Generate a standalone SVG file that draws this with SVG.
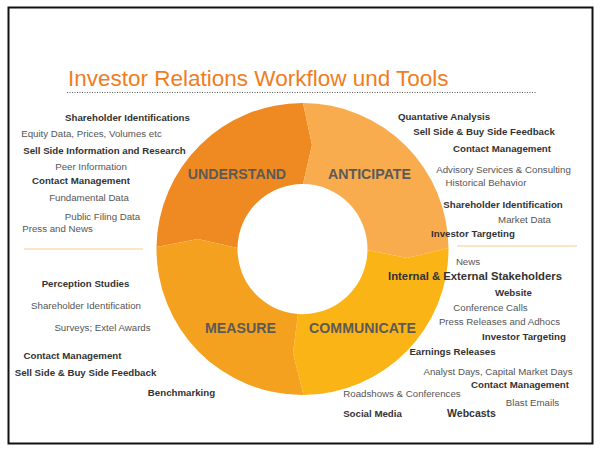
<svg xmlns="http://www.w3.org/2000/svg" width="600" height="452" viewBox="0 0 600 452">
<style>
.b{font-family:"Liberation Sans",Arial,sans-serif;font-size:9.7px;font-weight:bold;fill:#333;text-anchor:middle}
.r{font-family:"Liberation Sans",Arial,sans-serif;font-size:9.7px;fill:#555;text-anchor:middle}
.seg{font-family:"Liberation Sans",Arial,sans-serif;font-size:14.2px;font-weight:bold;fill:#5c5a57;text-anchor:middle}
.sep{stroke:#FADBB5;stroke-width:1.5}
</style>
<rect x="0" y="0" width="600" height="452" fill="#fff"/>
<rect x="8.5" y="7.5" width="584" height="436" fill="#fff" stroke="#111" stroke-width="2"/>
<text x="68" y="86" font-family="'Liberation Sans',Arial,sans-serif" font-size="22.5" fill="#F07D1E">Investor Relations Workflow und Tools</text>
<line x1="67" y1="92.5" x2="537" y2="92.5" stroke="#555" stroke-width="1" stroke-dasharray="1,1.5"/>
<line class="sep" x1="24" y1="249" x2="143" y2="249"/>
<line class="sep" x1="457" y1="246" x2="577" y2="246"/>

<g id="understand">
<path d="M156.5,247 A146,146 0 0 1 303,103 L312,145 L303,184 A65,65 0 0 0 237.5,248 L198,239 Z" fill="#EF8A22"/>
<text class="seg" x="237" y="179">UNDERSTAND</text>
</g>
<g id="anticipate">
<path d="M303,103 A146,146 0 0 1 448.5,248 L407,258 L367.5,250 A65,65 0 0 0 303,184 L312,145 Z" fill="#F8AC4E"/>
<text class="seg" x="369.5" y="179">ANTICIPATE</text>
</g>
<g id="communicate">
<path d="M448.5,248 A146,146 0 0 1 303.5,395 L293,353 L298,314 A65,65 0 0 0 367.5,250 L407,258 Z" fill="#FBB416"/>
<text class="seg" x="362.5" y="333">COMMUNICATE</text>
</g>
<g id="measure">
<path d="M303.5,395 A146,146 0 0 1 156.5,247 L198,239 L237.5,248 A65,65 0 0 0 298,314 L293,353 Z" fill="#F4A11F"/>
<text class="seg" x="240.5" y="333">MEASURE</text>
</g>

<g id="understand-tools">
<text class="b" x="127.5" y="120.8">Shareholder Identifications</text>
<text class="r" x="91.5" y="136.8">Equity Data, Prices, Volumes etc</text>
<text class="b" x="104.5" y="153.8">Sell Side Information and Research</text>
<text class="r" x="91" y="169.8">Peer Information</text>
<text class="b" x="81" y="183.8">Contact Management</text>
<text class="r" x="89" y="200.8">Fundamental Data</text>
<text class="r" x="102.5" y="219.8">Public Filing Data</text>
<text class="r" x="57.5" y="231.8">Press and News</text>
</g>
<g id="anticipate-tools">
<text class="b" x="444" y="119.8">Quantative Analysis</text>
<text class="b" x="484" y="134.8">Sell Side &amp; Buy Side Feedback</text>
<text class="b" x="502" y="151.8">Contact Management</text>
<text class="r" x="503.5" y="172.8">Advisory Services &amp; Consulting</text>
<text class="r" x="486" y="185.8">Historical Behavior</text>
<text class="b" x="503" y="207.8">Shareholder Identification</text>
<text class="r" x="524.5" y="222.8">Market Data</text>
<text class="b" x="473" y="236.8">Investor Targeting</text>
</g>
<g id="measure-tools">
<text class="b" x="85.5" y="286.8">Perception Studies</text>
<text class="r" x="86" y="308.8">Shareholder Identification</text>
<text class="r" x="102.5" y="330.8">Surveys; Extel Awards</text>
<text class="b" x="72.5" y="358.8">Contact Management</text>
<text class="b" x="85.5" y="375.8">Sell Side &amp; Buy Side Feedback</text>
<text class="b" x="181.5" y="395.8">Benchmarking</text>
</g>
<g id="communicate-tools">
<text class="r" x="468" y="264.8">News</text>
<text class="b" x="475" y="280" style="font-size:11.3px">Internal &amp; External Stakeholders</text>
<text class="b" x="513.5" y="295.8">Website</text>
<text class="r" x="490.5" y="310.8">Conference Calls</text>
<text class="r" x="499.5" y="324.8">Press Releases and Adhocs</text>
<text class="b" x="524" y="339.8">Investor Targeting</text>
<text class="b" x="452.5" y="354.8">Earnings Releases</text>
<text class="r" x="498" y="374.8">Analyst Days, Capital Market Days</text>
<text class="b" x="520" y="387.8">Contact Management</text>
<text class="r" x="402" y="396.8">Roadshows &amp; Conferences</text>
<text class="r" x="532.5" y="405.8">Blast Emails</text>
<text class="b" x="372.5" y="416.8">Social Media</text>
<text class="b" x="471.5" y="417" style="font-size:10.5px">Webcasts</text>
</g>
</svg>
